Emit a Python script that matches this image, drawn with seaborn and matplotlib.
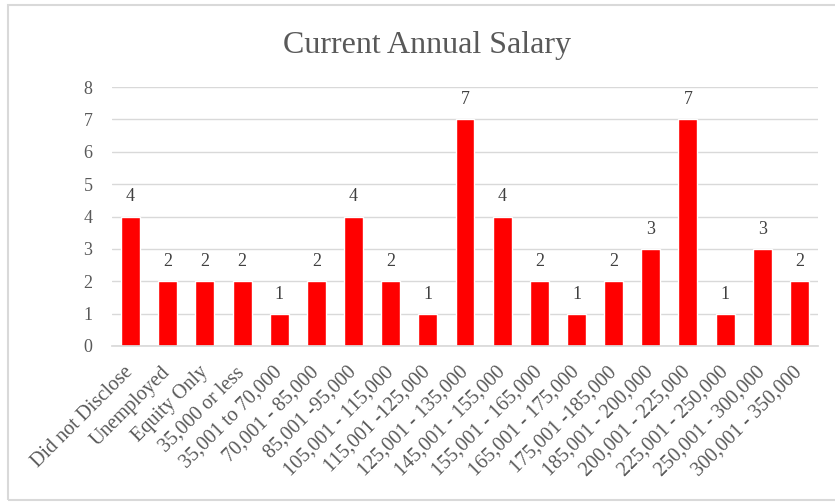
import pandas as pd
import seaborn as sns
import matplotlib.pyplot as plt
from matplotlib.patches import Rectangle

# salary bands and respondent counts
categories = ['Did not Disclose', 'Unemployed', 'Equity Only', '35,000 or less',
              '35,001 to 70,000', '70,001 - 85,000', '85,001 -95,000',
              '105,001 - 115,000', '115,001 -125,000', '125,001 - 135,000',
              '145,001 - 155,000', '155,001 - 165,000', '165,001 - 175,000',
              '175,001 -185,000', '185,001 - 200,000', '200,001 - 225,000',
              '225,001 - 250,000', '250,001 - 300,000', '300,001 - 350,000']
counts = [4, 2, 2, 2, 1, 2, 4, 2, 1, 7, 4, 2, 1, 2, 3, 7, 1, 3, 2]

df = pd.DataFrame({'band': categories, 'count': counts})

sns.set_theme(style='white')
plt.rcParams['font.family'] = ['Liberation Serif', 'DejaVu Serif']

fig = plt.figure(figsize=(8.35, 5.03), dpi=100)
ax = fig.add_axes([112 / 835, 1 - 346 / 503, 706 / 835, 259 / 503])

sns.barplot(data=df, x='band', y='count', color='#ff0000', saturation=1,
            width=0.51, ax=ax)

ax.set_xlim(-0.5, len(categories) - 0.5)
ax.set_ylim(0, 8)
ax.set_yticks(range(0, 9))
ax.yaxis.grid(True, color='#d9d9d9', linewidth=1)
ax.set_axisbelow(True)
for s in ['top', 'right', 'left']:
    ax.spines[s].set_visible(False)
ax.spines['bottom'].set_color('#d9d9d9')
ax.tick_params(axis='both', length=0, colors='#595959')
ax.tick_params(axis='y', pad=14, labelsize=13)
ax.tick_params(axis='x', pad=17, labelsize=14.5)
ax.set_xlabel('')
ax.set_ylabel('')
plt.setp(ax.get_xticklabels(), rotation=45, ha='right', va='center',
         rotation_mode='anchor')

for c in ax.containers:
    ax.bar_label(c, padding=8, color='#404040', fontsize=13)

fig.text(427 / 835, 1 - 45 / 503, 'Current Annual Salary', ha='center', va='center',
         fontsize=23, color='#595959')

# outer chart border
fig.patches.append(Rectangle((8 / 835, 1 - 500 / 503), 1.0, 495 / 503,
                             transform=fig.transFigure, fill=False,
                             edgecolor='#d9d9d9', linewidth=1.5))

fig.savefig('out.png', dpi=100)
